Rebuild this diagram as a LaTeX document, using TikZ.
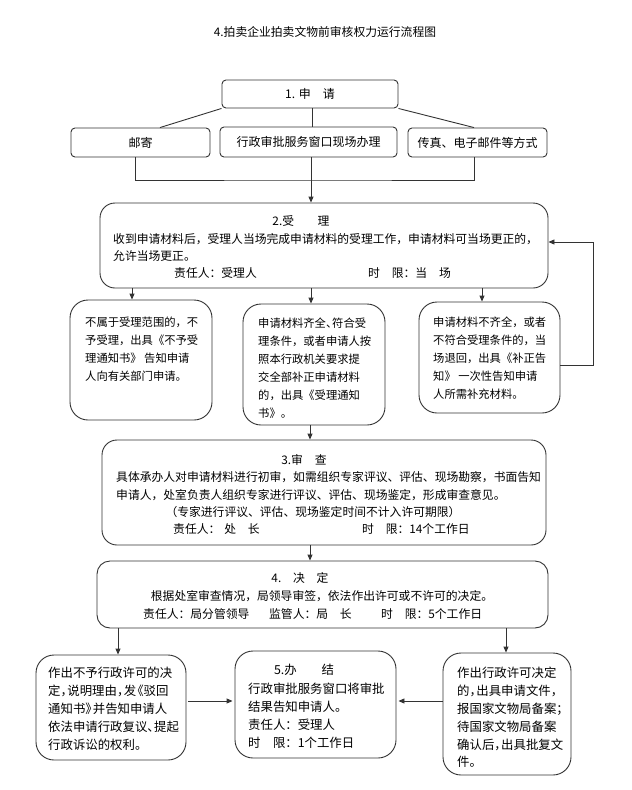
\documentclass[tikz,border=0pt]{standalone}
\usepackage{fontspec}
\setmainfont{Noto Sans CJK SC}
\usetikzlibrary{arrows.meta,calc}
\newcommand\hc{\makebox[0.55em][l]{，}}
\newcommand\hd{\makebox[0.55em][l]{、}}
\newcommand\hl{\makebox[0.6em][r]{《}}
\newcommand\hr{\makebox[0.6em][l]{》}}
\begin{document}
\begin{tikzpicture}[x=1pt,y=-1pt,
  line/.style={draw=black!80, line width=0.9pt},
  arr/.style={line, -{Triangle[length=6pt,width=5pt]}},
  sbox/.style={line, rectangle, rounded corners=4pt, inner sep=0pt, font=\fontsize{12}{14}\selectfont},
  bbox/.style={line, rectangle, rounded corners=15pt, inner sep=0pt},
  cbox/.style={line, rectangle, rounded corners=18pt, inner sep=0pt},
  t12/.style={inner sep=0pt, font=\fontsize{11.8}{14}\selectfont},
  tmid/.style={inner sep=0pt, font=\fontsize{11.8}{17.5}\selectfont},
  tsm/.style={inner sep=0pt, anchor=north west, align=left, font=\fontsize{11.3}{18}\selectfont, yshift=8.3pt},
  tbot/.style={inner sep=0pt, anchor=north west, align=left, font=\fontsize{12.4}{17.8}\selectfont, yshift=7.7pt},
  tbc/.style={inner sep=0pt, font=\fontsize{12.4}{17.8}\selectfont},
]
\fill[white] (0,0) rectangle (632,790);
\useasboundingbox (0,0) rectangle (632,790);

% title
\node[t12] (title) at (325,32) {4.拍卖企业拍卖文物前审核权力运行流程图};

% step 1
\node[sbox, minimum width=176pt, minimum height=28pt] (b1) at (310,94) {1. 申　请};
\node[sbox, minimum width=139pt, minimum height=29pt] (mail) at (140.5,142.5) {邮寄};
\node[sbox, minimum width=177pt, minimum height=30pt] (win) at (308.5,142) {行政审批服务窗口现场办理};
\node[sbox, minimum width=139pt, minimum height=29pt] (fax) at (477.5,142.5) {传真、电子邮件等方式};

\draw[line] (b1.south west) -- ([xshift=19.5pt]mail.north);
\draw[line] ([xshift=2pt]b1.south) -- ([xshift=2pt]b1.south |- win.north);
\draw[line] (b1.south east) -- ([xshift=-3.5pt]fax.north);
\coordinate (j) at (311,180);
\draw[line] ([xshift=-5.5pt]mail.south) |- (j) -| ([xshift=-3.5pt]fax.south);

% step 2
\node[bbox, minimum width=448pt, minimum height=85pt] (b2) at (324,245.5) {};
\draw[arr] ([xshift=2.5pt]win.south) -- ([xshift=2.5pt]win.south |- b2.north);
\node[tmid] (b2t) at (301,221) {2.受　　理};
\node[tmid, anchor=west] (b2l1) at (113,239) {收到申请材料后，受理人当场完成申请材料的受理工作，申请材料可当场更正的，};
\node[tmid, anchor=west] (b2l2) at (113,256) {允许当场更正。};
\node[tmid, anchor=west] (b2r) at (174,273) {\makebox[194pt][l]{责任人：受理人}时　限：当　场};

% row 2
\node[cbox, minimum width=142pt, minimum height=120pt] (r2a) at (141,360) {};
\node[cbox, minimum width=142pt, minimum height=121pt] (r2b) at (314,364.5) {};
\node[cbox, minimum width=141pt, minimum height=111pt] (r2c) at (489.5,357.5) {};
\node[tsm] (r2at) at (85,322) {\strut 不属于受理范围的，不\\予受理，出具《不予受\\理通知书》 告知申请\\人向有关部门申请。};
\node[tsm] (r2bt) at (258,323) {\strut 申请材料齐全\hd 符合受\\理条件，或者申请人按\\照本行政机关要求提\\交全部补正申请材料\\的，出具《受理通知\\书》。};
\node[tsm] (r2ct) at (433,322) {\strut 申请材料不齐全，或者\\不符合受理条件的，当\\场退回，出具《补正告\\知》 一次性告知申请\\人所需补充材料。};

\coordinate (xa) at (132,0);
\coordinate (xb) at (311,0);
\coordinate (xc) at (482,0);
\draw[arr] (b2.south -| xa) -- (r2a.north -| xa);
\draw[arr] (b2.south -| xb) -- (r2b.north -| xb);
\draw[arr] (b2.south -| xc) -- (r2c.north -| xc);

\coordinate (fy) at (0,365);
\coordinate (fb) at (593,242);
\draw[arr] (r2c.east |- fy) -| (fb) -- (b2.east |- fb);

% step 3
\node[bbox, minimum width=444pt, minimum height=105pt] (b3) at (324,492.5) {};
\node[tmid] (b3t) at (304,460) {3.审　查};
\node[tmid, anchor=west] (b3l1) at (116,477) {具体承办人对申请材料进行初审，如需组织专家评议、评估、现场勘察，书面告知};
\node[tmid, anchor=west] (b3l2) at (116,495) {申请人，处室负责人组织专家进行评议、评估、现场鉴定，形成审查意见。};
\node[tmid] (b3l3) at (313,512) {（专家进行评议、评估、现场鉴定时间不计入许可期限）};
\node[tmid, anchor=west] (b3r) at (173,529) {\makebox[189pt][l]{责任人：\hspace{4pt}处　长}时　限：14个工作日};

\coordinate (xm) at (310,0);
\draw[arr] (r2b.south -| xm) -- (b3.north -| xm);

% step 4
\node[bbox, rounded corners=13pt, minimum width=451pt, minimum height=67pt] (b4) at (322.5,594.5) {};
\draw[arr] (b3.south -| xm) -- (b4.north -| xm);
\node[tmid] (b4t) at (300,578) {4.　决　定};
\node[tmid] (b4l1) at (322,596) {根据处室审查情况，局领导审签，依法作出许可或不许可的决定。};
\node[tmid, anchor=west] (b4r) at (143,614) {\makebox[126pt][l]{责任人：局分管领导}\makebox[112pt][l]{监管人：局　长}时　限：5个工作日};

% bottom row
\node[cbox, minimum width=150pt, minimum height=105pt] (bl) at (111,707.5) {};
\node[cbox, minimum width=161pt, minimum height=107pt] (bm) at (315.5,704.5) {};
\node[cbox, minimum width=128pt, minimum height=122pt] (br) at (507,714) {};

\node[tbot] (blt) at (48,673) {\strut 作出不予行政许可的决\\定\hc 说明理由\hc 发\hl 驳回\\通知书\hr 并告知申请人\\依法申请行政复议\hd 提起\\行政诉讼的权利。};
\node[tbc] (bmt) at (304,670) {5.办　　结};
\node[tbot] (bml) at (248,689) {\strut 行政审批服务窗口将审批\\结果告知申请人。\\责任人：受理人\\时　限：1个工作日};
\node[tbot] (brt) at (457,673) {\strut 作出行政许可决定\\的\hc 出具申请文件\hc\\报国家文物局备案；\\待国家文物局备案\\确认后\hc 出具批复文\\件。};

\coordinate (xl) at (118,0);
\coordinate (xr) at (506,0);
\draw[arr] (b4.south -| xl) -- (bl.north -| xl);
\draw[arr] (b4.south -| xr) -- (br.north -| xr);

\coordinate (yb) at (0,701);
\draw[arr, shorten <=2pt, shorten >=2pt] (bl.east |- yb) -- (bm.west |- yb);
\draw[arr, shorten >=2pt] (br.west |- yb) -- (bm.east |- yb);
\end{tikzpicture}
\end{document}
